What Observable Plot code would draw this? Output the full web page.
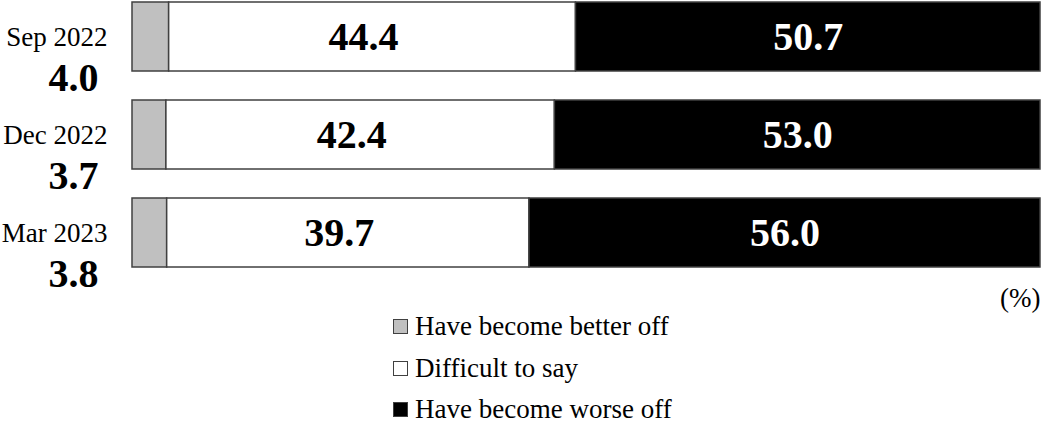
<!DOCTYPE html>
<html>
<head>
<meta charset="utf-8">
<script src="https://cdn.jsdelivr.net/npm/d3@7"></script>
<script src="https://cdn.jsdelivr.net/npm/@observablehq/plot@0.6"></script>
<style>
  html, body { margin: 0; padding: 0; background: #fff; }
  body { width: 1043px; height: 430px; overflow: hidden; font-family: "Liberation Serif", "Times New Roman", serif; }
  #chart svg { display: block; }
  #legend { margin-left: 393px; margin-top: -10px; font-size: 27px; line-height: 41.5px; color: #000; position: relative; }
  #legend .row { display: flex; align-items: center; height: 41.5px; }
  #legend .sw { width: 13px; height: 13px; border: 1px solid #404040; margin-right: 7px; box-sizing: content-box; }
</style>
</head>
<body>
<div id="chart"></div>
<div id="legend"></div>
<script>
const periods = ["Sep 2022", "Dec 2022", "Mar 2023"];
const categories = ["Have become better off", "Difficult to say", "Have become worse off"];
const better = [4.0, 3.7, 3.8];
const difficult = [44.4, 42.4, 39.7];
const worse = [50.7, 53.0, 56.0];
const colors = ["#c0c0c0", "#ffffff", "#000000"];

const series = [better, difficult, worse];
const data = [];
periods.forEach((p, i) => {
  categories.forEach((c, j) => {
    data.push({period: p, category: c, value: series[j][i]});
  });
});

const font = `"Liberation Serif", "Times New Roman", serif`;
const stackOpts = {x: "value", y: "period", z: "category", offset: "normalize"};

const chart = Plot.plot({
  width: 1043,
  height: 316,
  marginTop: 1,
  marginBottom: 49,
  marginLeft: 132,
  marginRight: 3,
  style: {fontFamily: font, background: "transparent"},
  x: {axis: null},
  y: {axis: null, domain: periods, paddingInner: 0.3, paddingOuter: 0},
  color: {domain: categories, range: colors},
  marks: [
    Plot.barX(data, Plot.stackX({...stackOpts, fill: "category", stroke: "#404040", strokeWidth: 1.5})),
    Plot.text(data, Plot.stackX({...stackOpts,
      text: d => d.category === categories[1] ? d.value.toFixed(1) : null,
      fill: "black", fontSize: 40, fontWeight: "bold", dx: -9, fontFamily: font})),
    Plot.text(data, Plot.stackX({...stackOpts,
      text: d => d.category === categories[2] ? d.value.toFixed(1) : null,
      fill: "white", fontSize: 40, fontWeight: "bold", fontFamily: font})),
    Plot.text(periods, {y: d => d, text: d => d, frameAnchor: "left", textAnchor: "end", dx: -25, fontSize: 27, fill: "black", fontFamily: font}),
    Plot.text(periods, {y: d => d, text: (d, i) => better[i].toFixed(1), frameAnchor: "left", textAnchor: "end", dx: -34, dy: 41, fontSize: 40, fontWeight: "bold", fill: "black", fontFamily: font}),
    Plot.text(["(%)"], {text: d => d, frameAnchor: "bottom-right", textAnchor: "end", lineAnchor: "middle", dx: 0, dy: 31, fontSize: 27, fill: "black", fontFamily: font})
  ]
});
document.getElementById("chart").appendChild(chart);

const legend = d3.select("#legend");
categories.forEach((c, j) => {
  const row = legend.append("div").attr("class", "row");
  row.append("span").attr("class", "sw").style("background", colors[j]);
  row.append("span").text(c);
});
</script>
</body>
</html>
